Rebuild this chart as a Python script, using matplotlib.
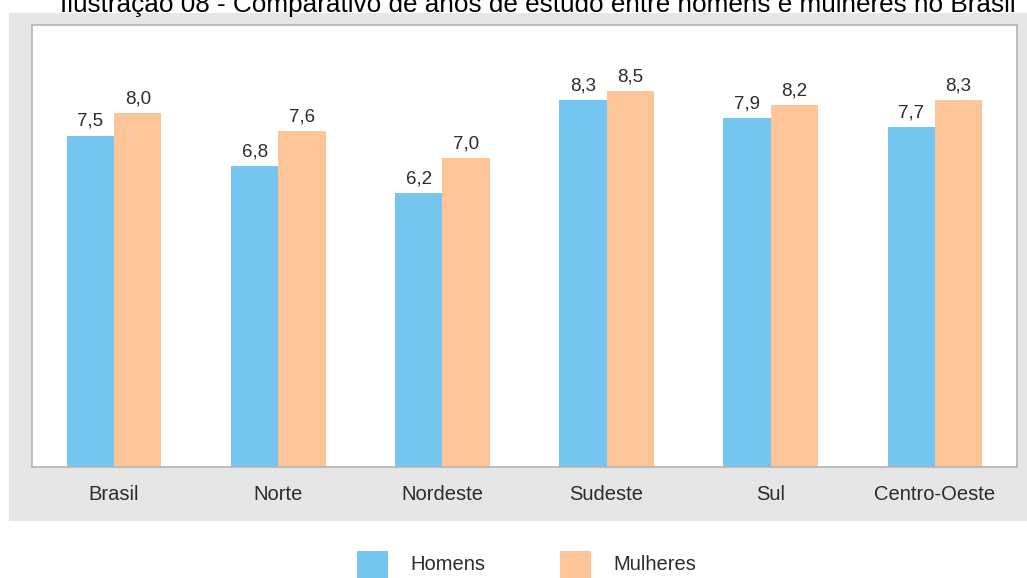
import matplotlib
matplotlib.use("Agg")
import matplotlib.pyplot as plt
from matplotlib.patches import Rectangle
import numpy as np

regions = ["Brasil", "Norte", "Nordeste", "Sudeste", "Sul", "Centro-Oeste"]
homens = [7.5, 6.8, 6.2, 8.3, 7.9, 7.7]
mulheres = [8.0, 7.6, 7.0, 8.5, 8.2, 8.3]

BLUE = "#74c5ef"
ORANGE = "#fec698"
TEXT = "#2b2b33"
PANEL = "#e6e6e6"

W, H = 1027, 578
fig = plt.figure(figsize=(W / 100, H / 100), dpi=100)
fig.patch.set_facecolor("white")
plt.rcParams["font.family"] = ["Liberation Sans", "DejaVu Sans"]

# grey panel behind the chart
fig.patches.append(Rectangle((9 / W, 1 - 521 / H), (W - 9) / W, (521 - 13) / H,
                             transform=fig.transFigure, facecolor=PANEL,
                             edgecolor="none", zorder=0))

ax = fig.add_axes([32 / W, 1 - 467 / H, (1017 - 32) / W, (467 - 25) / H])
ax.set_facecolor("white")
ax.set_zorder(1)

x = np.arange(len(regions))
w = 0.288
b1 = ax.bar(x - w / 2, homens, w, color=BLUE, zorder=2)
b2 = ax.bar(x + w / 2, mulheres, w, color=ORANGE, zorder=2)

for bars, vals in ((b1, homens), (b2, mulheres)):
    for r, v in zip(bars, vals):
        ax.annotate(f"{v:.1f}".replace(".", ","),
                    (r.get_x() + r.get_width() / 2, v),
                    xytext=(0, 4), textcoords="offset points",
                    ha="center", va="bottom", fontsize=13.5, color=TEXT)

ax.set_xlim(-0.5, 5.5)
ax.set_ylim(0, 10)
ax.set_xticks(x)
ax.set_xticklabels(regions, fontsize=14.5, color=TEXT)
ax.tick_params(axis="x", length=0, pad=13)
ax.set_yticks([])
for s in ax.spines.values():
    s.set_color("#b4b4b4")
    s.set_linewidth(1.2)

fig.text(538 / W, 1 - 12 / H,
         "Ilustração 08 - Comparativo de anos de estudo entre homens e mulheres no Brasil",
         ha="center", va="baseline", fontsize=18.8, color="black")

# legend
for x0, col, label in ((357, BLUE, "Homens"), (560, ORANGE, "Mulheres")):
    fig.patches.append(Rectangle((x0 / W, 0), 31 / W, (578 - 551) / H,
                                 transform=fig.transFigure, facecolor=col,
                                 edgecolor="none"))
    fig.text((x0 + 53) / W, 1 - 565 / H, label, ha="left", va="center",
             fontsize=14.5, color=TEXT)

fig.savefig("out.png", dpi=100)
